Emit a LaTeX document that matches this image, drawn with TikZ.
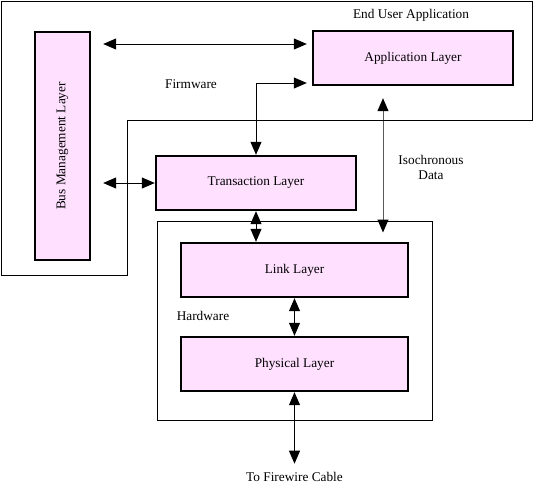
\documentclass[tikz,border=0pt]{standalone}
\usepackage{fontspec}
\setmainfont{Liberation Serif}
\usepackage{graphicx}
\usetikzlibrary{arrows.meta}
\definecolor{layerpink}{RGB}{255,225,255}

\begin{document}
\begin{tikzpicture}[x=1pt, y=-1pt,
	layer/.style={draw, line width=2.4pt, fill=layerpink, minimum width=200pt, minimum height=54pt, inner sep=0pt},
	dblarrow/.style={{Triangle[length=13pt,width=11pt]}-{Triangle[length=13pt,width=11pt]}, line width=1pt}]
	\fontsize{13.3}{15}\selectfont
	\useasboundingbox (0,0) rectangle (533,485);
	% regions
	\draw [line width=1pt] (1,1) -- (532,1) -- (532,120) -- (127,120) -- (127,275) -- (1,275) -- cycle;
	\node [draw, line width=1pt, minimum width=275pt, minimum height=199pt] (hw) at (294.5,320.5) {};
	% layers
	\node [layer, minimum width=55pt, minimum height=228pt] (bus) at (62.5,146) {\rotatebox{90}{Bus Management Layer}};
	\node [layer] (app) at (413,58) {Application Layer};
	\node [layer] (trans) at (256,183) {Transaction Layer};
	\node [layer, minimum width=227pt] (link) at (294.5,270) {Link Layer};
	\node [layer, minimum width=227pt] (phys) at (294.5,364) {Physical Layer};
	% labels
	\node (enduser) at (411,15) {End User Application};
	\node (firmware) at (191,84) {Firmware};
	\node [align=center] (isodata) at (431,167) {Isochronous\\Data};
	\node (hardware) at (203,316) {Hardware};
	\node (cable) at (294.5,477) {To Firewire Cable};
	% arrows
	\coordinate (fwtop) at ([yshift=14pt]app.west);
	\coordinate (fwmid) at ([yshift=-25pt]app.west);
	\coordinate (isotop) at ([xshift=-30pt]app.south);
	\draw [dblarrow, shorten <=12pt, shorten >=5pt] (bus.east |- fwtop) -- (fwtop);
	\draw [dblarrow, shorten <=12pt] (bus.east |- trans.west) -- (trans.west);
	\draw [dblarrow, shorten >=5pt] (trans.north) |- (fwmid);
	\draw [dblarrow, shorten <=12pt] (isotop) -- (isotop |- hw.north) -- ++(0,12);
	\draw [dblarrow] (trans.south) -- (trans.south |- link.north);
	\draw [dblarrow] (link.south) -- (phys.north);
	\draw [dblarrow, shorten >=4pt] (phys.south) -- (cable.north);
\end{tikzpicture}
\end{document}
